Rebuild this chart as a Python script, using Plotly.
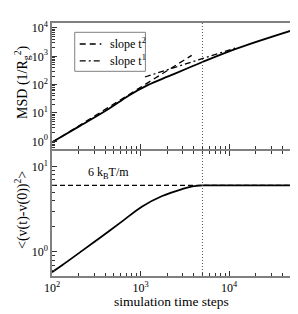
import plotly.graph_objects as go

# ---- data ----
t_msd = [100, 207, 430, 724, 1220, 2050, 3450, 5000, 11700, 50000]
msd = [0.92, 3.5, 13.5, 40, 98, 195, 385, 630, 1800, 8040]

t_slope2 = [100, 3780]
msd_slope2 = [0.9, 1080]

t_slope1 = [1120, 11700]
msd_slope1 = [186, 1950]

t_vel = [100, 130, 218, 368, 619, 1043, 1755, 2955, 3840, 5000, 10000, 50000]
vel = [0.58, 0.70, 1.03, 1.53, 2.28, 3.41, 4.52, 5.45, 5.85, 6.0, 6.0, 6.0]

t_plateau = [100, 50000]
vel_plateau = [6, 6]

t_cross = 5000

x_ticks = [100, 1000, 10000]
x_ticktext = ["10<sup>2</sup>", "10<sup>3</sup>", "10<sup>4</sup>"]
msd_ticks = [1, 10, 100, 1000, 10000]
msd_ticktext = ["10<sup>0</sup>", "10<sup>1</sup>", "10<sup>2</sup>", "10<sup>3</sup>", "10<sup>4</sup>"]
vel_ticks = [1, 10]
vel_ticktext = ["10<sup>0</sup>", "10<sup>1</sup>"]

legend_labels = ["slope t<sup>2</sup>", "slope t<sup>1</sup>"]

x_range = [2, 4.699]
y_msd_range = [-0.28, 4.175]
y_vel_range = [-0.281, 1.184]

SERIF = "Liberation Serif"
FRAME = "#808080"
DASH2 = "6px,4px"
DASH1 = "6px,3px,2px,3px"

fig = go.Figure()

# top panel (x2, y2)
fig.add_trace(go.Scatter(x=t_msd, y=msd, mode="lines", line=dict(color="black", width=1.8, shape="spline", smoothing=1),
                         showlegend=False, xaxis="x2", yaxis="y2"))
fig.add_trace(go.Scatter(x=t_slope2, y=msd_slope2, mode="lines", name=legend_labels[0], showlegend=False,
                         line=dict(color="black", width=1.3, dash=DASH2), xaxis="x2", yaxis="y2"))
fig.add_trace(go.Scatter(x=t_slope1, y=msd_slope1, mode="lines", name=legend_labels[1], showlegend=False,
                         line=dict(color="black", width=1.3, dash=DASH1), xaxis="x2", yaxis="y2"))

# bottom panel (x, y)
fig.add_trace(go.Scatter(x=t_plateau, y=vel_plateau, mode="lines", line=dict(color="black", width=1.3, dash="5px,3px"),
                         showlegend=False, xaxis="x", yaxis="y"))
fig.add_trace(go.Scatter(x=t_vel, y=vel, mode="lines", line=dict(color="black", width=1.8, shape="spline"),
                         showlegend=False, xaxis="x", yaxis="y"))

fig.add_shape(type="line", xref="x", yref="paper", x0=t_cross, x1=t_cross, y0=0, y1=1,
              line=dict(color="#555555", width=1, dash="1px,2px"))

# manual legend box
fig.add_shape(type="rect", xref="paper", yref="paper", x0=0.0951, x1=0.3908, y0=0.809, y1=0.9632,
              line=dict(color=FRAME, width=1), fillcolor="white", layer="above")
for yy, dash, lab in [(0.917, DASH2, legend_labels[0]), (0.850, DASH1, legend_labels[1])]:
    fig.add_shape(type="line", xref="paper", yref="paper", x0=0.116, x1=0.2065, y0=yy, y1=yy,
                  line=dict(color="black", width=1.3, dash=dash), layer="above")
    fig.add_annotation(xref="paper", yref="paper", x=0.2346, y=yy, xanchor="left", yanchor="middle",
                       text=lab, showarrow=False, font=dict(family=SERIF, size=12, color="black"))

tickfont = dict(family=SERIF, size=12, color="black")
common_axis = dict(showgrid=False, zeroline=False, linecolor=FRAME, linewidth=1.5,
                   ticks="inside", ticklen=5, tickcolor="#333333", tickwidth=1,
                   tickfont=tickfont, type="log", automargin=False, tickmode="array",
                   minor=dict(ticks="inside", ticklen=3, tickcolor="#333333", dtick="D1", showgrid=False))

fig.update_layout(
    width=298, height=314,
    margin=dict(l=44, r=15.3, t=15, b=46),
    plot_bgcolor="white", paper_bgcolor="white",
    font=dict(family=SERIF, color="black"),
    showlegend=False,
    xaxis=dict(**common_axis, range=x_range, domain=[0, 1], anchor="y", mirror="ticks",
               tickvals=x_ticks, ticktext=x_ticktext),
    yaxis=dict(**common_axis, range=y_vel_range, domain=[0, 0.495], anchor="x", mirror=True,
               tickvals=vel_ticks, ticktext=vel_ticktext),
    xaxis2=dict(**common_axis, range=x_range, domain=[0, 1], anchor="y2", matches="x", mirror=True,
                tickvals=x_ticks, showticklabels=False),
    yaxis2=dict(**common_axis, range=y_msd_range, domain=[0.501, 1], anchor="x2", mirror=True,
                tickvals=msd_ticks, ticktext=msd_ticktext),
)

# axis titles
fig.add_annotation(xref="paper", yref="paper", x=0, y=0.767, xshift=-30, textangle=-90,
                   xanchor="center", yanchor="middle",
                   text="MSD (1/R<sub>g</sub><sup>2</sup>)", showarrow=False,
                   font=dict(family=SERIF, size=14, color="black"))
fig.add_annotation(xref="paper", yref="paper", x=0, y=0.261, xshift=-30, textangle=-90,
                   xanchor="center", yanchor="middle",
                   text="&lt;(v(t)-v(0))<sup>2</sup>&gt;", showarrow=False,
                   font=dict(family=SERIF, size=14, color="black"))
fig.add_annotation(xref="paper", yref="paper", x=0.5, y=0, yshift=-25, xanchor="center", yanchor="middle",
                   text="simulation time steps", showarrow=False,
                   font=dict(family=SERIF, size=13.5, color="black"))

fig.add_annotation(xref="paper", yref="paper", x=0.2346, y=0.407, xanchor="center", yanchor="middle",
                   text="6 k<sub>B</sub>T/m",
                   showarrow=False, font=dict(family=SERIF, size=12, color="black"))

fig.write_html("out.html")
